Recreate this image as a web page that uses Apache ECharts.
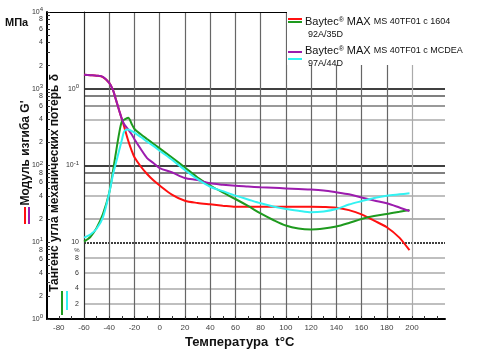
<!DOCTYPE html>
<html><head><meta charset="utf-8">
<script src="https://cdn.jsdelivr.net/npm/echarts@6/dist/echarts.min.js"></script>
<style>html,body{margin:0;padding:0;background:#fff}#c{width:500px;height:356px}</style>
</head><body><div id="c"></div>
<script>
// ---- data ----
const temps = [-60,-55,-50,-45,-40,-37,-35,-32,-30,-28,-25,-22,-20,-15,-10,-5,0,10,20,30,40,50,60,70,80,90,100,110,120,130,140,150,160,170,180,190,198];
// flexural modulus G', MPa
const modulus1604 = [1520,1500,1480,1420,1190,960,750,514,404,314,212,153,128,97,77.5,64.1,54.9,41.5,34.7,32.5,31.2,30,29,29,29,29,29,29,29,28.8,28.2,26.2,23.1,19.1,15.7,11.5,7.9];
const modulusMCDEA = [1520,1500,1480,1430,1190,960,750,514,404,341,296,251,220,164,125,108,92.7,81.1,68.7,64.5,58.6,56.2,54.4,53.2,52.0,51.2,50.3,49.4,48.6,47.2,44.8,42.2,38.3,35.0,32.2,28.4,25.5];
// loss tangent tan δ
const tan1604 = [0.0102,0.0117,0.0154,0.0233,0.0443,0.0848,0.137,0.270,0.372,0.397,0.420,0.343,0.299,0.255,0.221,0.192,0.167,0.126,0.0942,0.0698,0.0549,0.0445,0.0366,0.0297,0.0237,0.0195,0.0165,0.0151,0.0147,0.0151,0.0160,0.0178,0.0201,0.0220,0.0233,0.0249,0.0263];
const tanMCDEA = [0.0115,0.0126,0.0150,0.0211,0.0438,0.0764,0.103,0.160,0.215,0.282,0.295,0.280,0.268,0.235,0.205,0.180,0.156,0.118,0.0874,0.0663,0.0529,0.0463,0.0405,0.0361,0.0322,0.0292,0.0271,0.0257,0.0246,0.0252,0.0271,0.0310,0.0343,0.0377,0.0404,0.0421,0.0434];

// ---- ticks / labels ----
const xLabelValues = [-80,-60,-40,-20,0,20,40,60,80,100,120,140,160,180,200];
const xTickValues = [-80,-70,-60,-50,-40,-30,-20,-10,0,10,20,30,40,50,60,70,80,90,100,110,120,130,140,150,160,170,180,190,200,210,220];
const xGridValues = [-60,-40,-20,0,20,40,60,80,100,120,140,160,180,200];
const mpaLabelValues = [1,2,4,6,8,10,20,40,60,80,100,200,400,600,800,1000,2000,4000,6000,8000,10000];
const mpaLabelTexts = ['10{s|0}','2','4','6','8','10{s|1}','2','4','6','8','10{s|2}','2','4','6','8','10{s|3}','2','4','6','8','10{s|4}'];
const mpaTickValues = [1,2,3,4,5,6,7,8,9,10,20,30,40,50,60,70,80,90,100,200,300,400,500,600,700,800,900,1000,2000,3000,4000,5000,6000,7000,8000,9000,10000];
const tanLabelValues = [0.00158,0.00251,0.00398,0.00631,0.01,0.1,1];
const tanLabelTexts = ['2','4','6','8','10','10{s|-1}','10{s|0}'];
const tanGridValues = [0.00158,0.00251,0.00398,0.00631,0.02,0.04,0.06,0.08,0.1,0.2,0.4,0.6,0.8,1];
const tanGridColors = ['#aaa','#aaa','#aaa','#aaa','#999','#aaa','#888','#555','#000','#999','#aaa','#777','#555','#000'];
const xGridColors = ['#333','#666','#666','#666','#666','#666','#666','#666','#666','#666','#666','#666','#666','#aaa'];

function pick(vals, texts, v) {
  let bi = 0, bd = Infinity;
  vals.forEach((x, i) => { const d = Math.abs(Math.log(x) - Math.log(Math.abs(v) || 1e-9)); if (d < bd) { bd = d; bi = i; } });
  return texts[bi];
}

const chart = echarts.init(document.getElementById('c'), null, {renderer: 'canvas'});
const lblFont = 'Liberation Sans, Arial, sans-serif';
const rich = {
  s: {fontSize: 6, verticalAlign: 'top', color: '#333', fontFamily: lblFont, padding: [0, 0, 5, 0]}
};

const option = {
  animation: false,
  backgroundColor: '#fff',
  grid: [
    {left: 47, right: 55, top: 12, bottom: 37},
    {left: 84, right: 55, top: 12, bottom: 37}
  ],
  xAxis: [
    {gridIndex: 0, type: 'value', min: -89.33, max: 226.16,
     axisLine: {show: true, onZero: false, lineStyle: {color: '#000', width: 2}},
     axisTick: {show: true, inside: true, length: 3, customValues: xTickValues, lineStyle: {color: '#333'}},
     axisLabel: {customValues: xLabelValues, fontSize: 8, color: '#444', margin: 5, fontFamily: lblFont},
     splitLine: {show: false}},
    {gridIndex: 1, type: 'value', min: -60, max: 226.16,
     axisLine: {show: false, onZero: false}, axisLabel: {show: false},
     axisTick: {show: false, customValues: xGridValues},
     splitLine: {show: true, lineStyle: {color: xGridColors, width: 1.2}}},
    {gridIndex: 0, type: 'value', position: 'top', min: -89.33, max: 226.16,
     axisLine: {show: true, onZero: false, lineStyle: {color: '#000', width: 1}},
     axisTick: {show: false}, axisLabel: {show: false}, splitLine: {show: false}}
  ],
  yAxis: [
    {gridIndex: 0, type: 'log', logBase: 10, min: 1, max: 10000, position: 'left',
     axisLine: {show: true, onZero: false, lineStyle: {color: '#000', width: 2}},
     axisTick: {show: true, inside: true, length: 3, customValues: mpaTickValues, lineStyle: {color: '#333'}},
     axisLabel: {customValues: mpaLabelValues, fontSize: 7, color: '#333', margin: 4, fontFamily: lblFont, rich: rich,
       formatter: v => pick(mpaLabelValues, mpaLabelTexts, v)},
     splitLine: {show: false}},
    {gridIndex: 1, type: 'log', logBase: 10, min: 0.001, max: 10, position: 'left',
     axisLine: {show: true, onZero: false, lineStyle: {color: '#333', width: 1}},
     axisTick: {show: false, customValues: tanGridValues},
     axisLabel: {customValues: tanLabelValues, fontSize: 7, color: '#333', margin: 5, fontFamily: lblFont, rich: rich,
       formatter: v => pick(tanLabelValues, tanLabelTexts, v)},
     splitLine: {show: true, lineStyle: {color: tanGridColors, width: 1.5}}},
    {gridIndex: 1, type: 'log', logBase: 10, min: 1, max: 10000, show: false, axisLine: {onZero: false}},
    {gridIndex: 1, type: 'log', logBase: 10, min: 0.001, max: 10, position: 'left',
     axisLine: {show: false, onZero: false}, axisLabel: {show: false},
     axisTick: {show: false, customValues: [0.01]},
     splitLine: {show: true, lineStyle: {color: '#000', width: 1.5, type: [2, 1]}}}
  ],
  series: [
    {name: 'G1604', type: 'line', xAxisIndex: 1, yAxisIndex: 2, data: temps.map((t, i) => [t, modulus1604[i]]),
     smooth: 0.3, showSymbol: false, lineStyle: {color: '#ff1010', width: 2}, z: 3},
    {name: 'T1604', type: 'line', xAxisIndex: 1, yAxisIndex: 1, data: temps.map((t, i) => [t, tan1604[i]]),
     smooth: 0.3, showSymbol: false, lineStyle: {color: '#1e9a1e', width: 2}, z: 4},
    {name: 'GMCDEA', type: 'line', xAxisIndex: 1, yAxisIndex: 2, data: temps.map((t, i) => [t, modulusMCDEA[i]]),
     smooth: 0.3, showSymbol: false, lineStyle: {color: '#9c1cae', width: 2}, z: 5},
    {name: 'TMCDEA', type: 'line', xAxisIndex: 1, yAxisIndex: 1, data: temps.map((t, i) => [t, tanMCDEA[i]]),
     smooth: 0.3, showSymbol: false, lineStyle: {color: '#33f2f2', width: 2}, z: 6}
  ],
  graphic: [
    {type: 'rect', shape: {x: 287, y: 0, width: 213, height: 65}, style: {fill: '#fff'}, z: 10},
    {type: 'line', shape: {x1: 288, y1: 19, x2: 302, y2: 19}, style: {stroke: '#ff1010', lineWidth: 2}, z: 11},
    {type: 'line', shape: {x1: 288, y1: 22, x2: 302, y2: 22}, style: {stroke: '#1e9a1e', lineWidth: 2}, z: 11},
    {type: 'line', shape: {x1: 288, y1: 52, x2: 302, y2: 52}, style: {stroke: '#9c1cae', lineWidth: 2}, z: 11},
    {type: 'line', shape: {x1: 288, y1: 59, x2: 302, y2: 59}, style: {stroke: '#33f2f2', lineWidth: 2}, z: 11},
    {type: 'text', x: 305, y: 22, z: 11, style: {
      text: '{a|Baytec}{r|®}{a| MAX }{b|MS 40TF01 c 1604}', verticalAlign: 'middle',
      rich: {a: {fontSize: 11, fontFamily: lblFont, fill: '#111'}, r: {fontSize: 7, verticalAlign: 'top', fontFamily: lblFont, fill: '#111'}, b: {fontSize: 9, fontFamily: lblFont, fill: '#111'}}}},
    {type: 'text', x: 308, y: 35, z: 11, style: {text: '92A/35D', fontSize: 9, fontFamily: lblFont, fill: '#111', verticalAlign: 'middle'}},
    {type: 'text', x: 305, y: 51, z: 11, style: {
      text: '{a|Baytec}{r|®}{a| MAX }{b|MS 40TF01 c MCDEA}', verticalAlign: 'middle',
      rich: {a: {fontSize: 11, fontFamily: lblFont, fill: '#111'}, r: {fontSize: 7, verticalAlign: 'top', fontFamily: lblFont, fill: '#111'}, b: {fontSize: 9, fontFamily: lblFont, fill: '#111'}}}},
    {type: 'text', x: 308, y: 64, z: 11, style: {text: '97A/44D', fontSize: 9, fontFamily: lblFont, fill: '#111', verticalAlign: 'middle'}},
    {type: 'text', x: 5, y: 23, z: 11, style: {text: 'МПа', fontSize: 11, fontWeight: 'bold', fontFamily: lblFont, fill: '#111', verticalAlign: 'middle'}},
    {type: 'text', x: 26, y: 153, rotation: Math.PI / 2, z: 11, style: {text: "Модуль изгиба G'", fontSize: 12, fontWeight: 'bold', fontFamily: lblFont, fill: '#111', align: 'center', verticalAlign: 'middle'}},
    {type: 'line', shape: {x1: 25, y1: 207, x2: 25, y2: 224}, style: {stroke: '#ff1010', lineWidth: 2}, z: 11},
    {type: 'line', shape: {x1: 29, y1: 207, x2: 29, y2: 224}, style: {stroke: '#9c1cae', lineWidth: 2}, z: 11},
    {type: 'text', x: 55, y: 183, rotation: Math.PI / 2, z: 11, style: {text: 'Тангенс угла механических потерь δ', fontSize: 12, fontWeight: 'bold', fontFamily: lblFont, fill: '#111', align: 'center', verticalAlign: 'middle'}},
    {type: 'line', shape: {x1: 62, y1: 291, x2: 62, y2: 315}, style: {stroke: '#1e9a1e', lineWidth: 2}, z: 11},
    {type: 'line', shape: {x1: 67, y1: 291, x2: 67, y2: 310}, style: {stroke: '#33f2f2', lineWidth: 2}, z: 11},
    {type: 'text', x: 77, y: 250, z: 11, style: {text: '%', fontSize: 6, fontFamily: lblFont, fill: '#333', align: 'center', verticalAlign: 'middle'}},
    {type: 'text', x: 185, y: 342, z: 11, style: {text: 'Температура  t°C', fontSize: 13, fontWeight: 'bold', fontFamily: lblFont, fill: '#111', verticalAlign: 'middle'}}
  ]
};
chart.setOption(option);
</script>
</body></html>
